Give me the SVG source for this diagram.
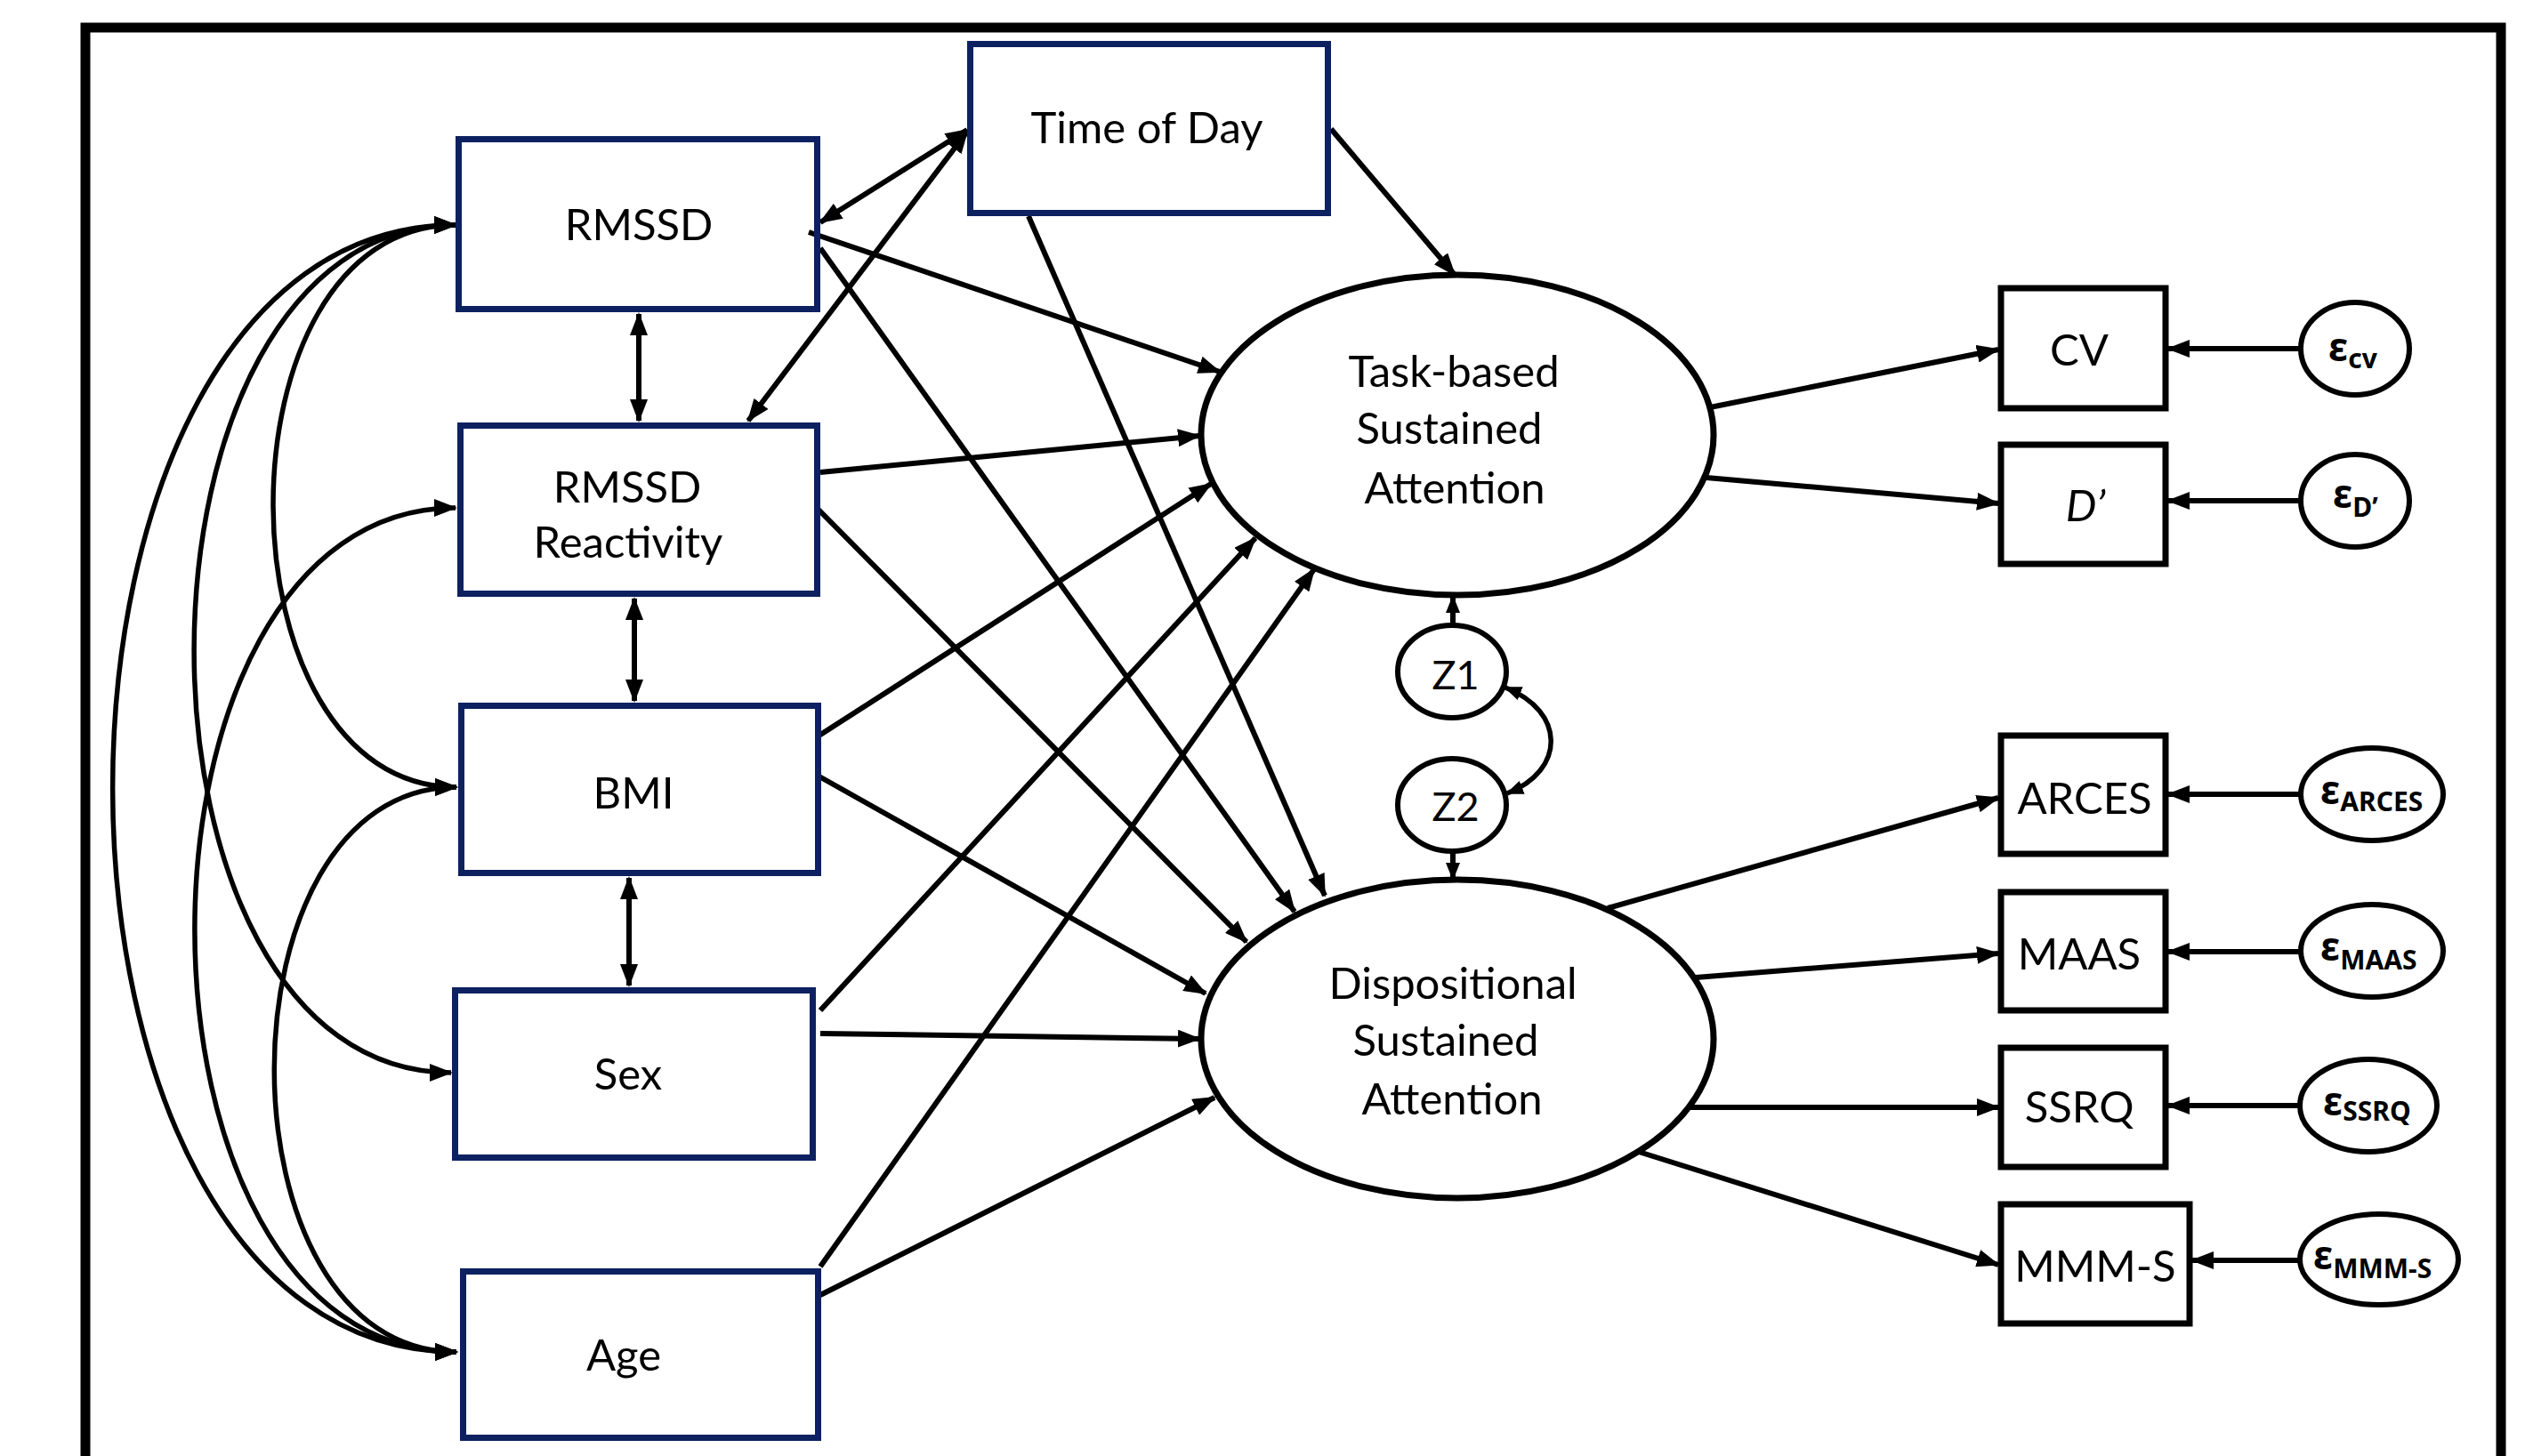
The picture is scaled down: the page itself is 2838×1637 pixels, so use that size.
<svg xmlns="http://www.w3.org/2000/svg" width="2838" height="1637" viewBox="0 0 2838 1637">
<style>
.frame{fill:none;stroke:#000;stroke-width:11}
.nbox{fill:none;stroke:#0d2160;stroke-width:7}
.kbox{fill:#fff;stroke:#000;stroke-width:7}
.ell{fill:#fff;stroke:#000;stroke-width:7}
.sell{fill:#fff;stroke:#000;stroke-width:6}
.lbl{font-family:Lato,"Liberation Sans",sans-serif;font-size:49px;fill:#000;text-anchor:middle}
.zl{font-family:Lato,"Liberation Sans",sans-serif;font-size:45px;fill:#000;text-anchor:middle}
.eps{font-family:"Noto Sans","DejaVu Sans",sans-serif;font-weight:bold;fill:#000}
.e{font-size:44px}
.sub{font-size:30px}
.c{fill:none;stroke:#000;stroke-width:6}
.cv{fill:none;stroke:#000;stroke-width:5.5}
</style>
<defs>
<marker id="ah" markerUnits="userSpaceOnUse" markerWidth="26" markerHeight="20" viewBox="0 0 26 20" refX="24" refY="10" orient="auto-start-reverse">
<path d="M0,0 L26,10 L0,20 z" fill="#000"/>
</marker>
<marker id="ahs" markerUnits="userSpaceOnUse" markerWidth="20" markerHeight="16" viewBox="0 0 20 16" refX="18" refY="8" orient="auto-start-reverse">
<path d="M0,0 L20,8 L0,16 z" fill="#000"/>
</marker>
</defs>
<rect x="0" y="0" width="2838" height="1637" fill="#fff"/>
<rect class="frame" x="96" y="31" width="2715" height="1700"/>

<g id="connectors">
<path class="cv" d="M512,253 C237,253 240,885 513,885" marker-start="url(#ah)" marker-end="url(#ah)"/>
<path class="cv" d="M512,253 C121,253 121,1206 507,1206" marker-start="url(#ah)" marker-end="url(#ah)"/>
<path class="cv" d="M512,253 C-2,253 -2,1520 513,1520" marker-start="url(#ah)" marker-end="url(#ah)"/>
<path class="cv" d="M512,571 C121,571 121,1520 513,1520" marker-start="url(#ah)" marker-end="url(#ah)"/>
<path class="cv" d="M513,885 C240,885 240,1520 513,1520" marker-start="url(#ah)" marker-end="url(#ah)"/>
<line class="c" x1="718" y1="353" x2="718" y2="473" marker-start="url(#ah)" marker-end="url(#ah)"/>
<line class="c" x1="713" y1="673" x2="713" y2="788" marker-start="url(#ah)" marker-end="url(#ah)"/>
<line class="c" x1="707" y1="987" x2="707" y2="1108" marker-start="url(#ah)" marker-end="url(#ah)"/>
<line class="c" x1="922" y1="250" x2="1087" y2="146" marker-start="url(#ah)" marker-end="url(#ah)"/>
<line class="c" x1="841" y1="473" x2="1087" y2="148" marker-start="url(#ah)" marker-end="url(#ah)"/>
<line class="c" x1="1496" y1="145" x2="1635" y2="309" marker-end="url(#ah)"/>
<line class="c" x1="909" y1="261" x2="1371" y2="418" marker-end="url(#ah)"/>
<line class="c" x1="922" y1="531" x2="1348" y2="490" marker-end="url(#ah)"/>
<line class="c" x1="919" y1="828" x2="1361" y2="544" marker-end="url(#ah)"/>
<line class="c" x1="922" y1="1136" x2="1411" y2="605" marker-end="url(#ah)"/>
<line class="c" x1="922" y1="1424" x2="1477" y2="640" marker-end="url(#ah)"/>
<line class="c" x1="1156" y1="243" x2="1489" y2="1007" marker-end="url(#ah)"/>
<line class="c" x1="922" y1="279" x2="1455" y2="1025" marker-end="url(#ah)"/>
<line class="c" x1="919" y1="572" x2="1401" y2="1059" marker-end="url(#ah)"/>
<line class="c" x1="919" y1="872" x2="1355" y2="1117" marker-end="url(#ah)"/>
<line class="c" x1="922" y1="1162" x2="1348" y2="1168" marker-end="url(#ah)"/>
<line class="c" x1="922" y1="1456" x2="1365" y2="1234" marker-end="url(#ah)"/>
<line class="c" x1="1633" y1="702" x2="1633" y2="671" marker-end="url(#ahs)"/>
<line class="c" x1="1633" y1="959" x2="1633" y2="988" marker-end="url(#ahs)"/>
<path class="cv" d="M1692,773 C1760,800 1760,866 1694,892" marker-start="url(#ahs)" marker-end="url(#ahs)"/>
<line class="c" x1="1922" y1="458" x2="2246" y2="393" marker-end="url(#ah)"/>
<line class="c" x1="1918" y1="537" x2="2246" y2="566" marker-end="url(#ah)"/>
<line class="c" x1="1807" y1="1021" x2="2246" y2="897" marker-end="url(#ah)"/>
<line class="c" x1="1906" y1="1099" x2="2246" y2="1072" marker-end="url(#ah)"/>
<line class="c" x1="1900" y1="1245" x2="2246" y2="1245" marker-end="url(#ah)"/>
<line class="c" x1="1842" y1="1295" x2="2246" y2="1422" marker-end="url(#ah)"/>
<line class="c" x1="2585" y1="392" x2="2437" y2="392" marker-end="url(#ah)"/>
<line class="c" x1="2585" y1="563" x2="2437" y2="563" marker-end="url(#ah)"/>
<line class="c" x1="2585" y1="893" x2="2437" y2="893" marker-end="url(#ah)"/>
<line class="c" x1="2585" y1="1070" x2="2437" y2="1070" marker-end="url(#ah)"/>
<line class="c" x1="2585" y1="1243" x2="2437" y2="1243" marker-end="url(#ah)"/>
<line class="c" x1="2585" y1="1417" x2="2464" y2="1417" marker-end="url(#ah)"/>
</g>

<g id="rmssd"><rect class="nbox" x="515.5" y="156.5" width="403" height="191"/><text class="lbl" x="718" y="270">RMSSD</text></g>
<g id="rmssd-reactivity"><rect class="nbox" x="517.5" y="478.5" width="401" height="189"/><text class="lbl" x="705" y="565">RMSSD</text><text class="lbl" x="706" y="627">Reactivity</text></g>
<g id="bmi"><rect class="nbox" x="518.5" y="793.5" width="401" height="188"/><text class="lbl" x="712" y="909">BMI</text></g>
<g id="sex"><rect class="nbox" x="511.5" y="1113.5" width="402" height="188"/><text class="lbl" x="706" y="1225">Sex</text></g>
<g id="age"><rect class="nbox" x="520.5" y="1429.5" width="399" height="187"/><text class="lbl" x="701" y="1541">Age</text></g>
<g id="time-of-day"><rect class="nbox" x="1090.5" y="49.5" width="402" height="190"/><text class="lbl" x="1289" y="161">Time of Day</text></g>

<g id="task-based"><ellipse class="ell" cx="1638" cy="489" rx="288" ry="180"/><text class="lbl" x="1634" y="435">Task-based</text><text class="lbl" x="1629" y="499">Sustained</text><text class="lbl" x="1635" y="566">Attention</text></g>
<g id="dispositional"><ellipse class="ell" cx="1638" cy="1168" rx="288" ry="179"/><text class="lbl" x="1633" y="1123">Dispositional</text><text class="lbl" x="1625" y="1187">Sustained</text><text class="lbl" x="1632" y="1253">Attention</text></g>
<g id="z1"><ellipse class="sell" cx="1632" cy="755" rx="61" ry="52"/><text class="zl" x="1636" y="775">Z1</text></g>
<g id="z2"><ellipse class="sell" cx="1632" cy="905" rx="61" ry="52"/><text class="zl" x="1636" y="923">Z2</text></g>

<g id="cv"><rect class="kbox" x="2249" y="324" width="185" height="135"/><text class="lbl" x="2337" y="411">CV</text></g>
<g id="dprime"><rect class="kbox" x="2249" y="500" width="185" height="134"/><text class="lbl" x="2344" y="586" font-style="italic">D’</text></g>
<g id="arces"><rect class="kbox" x="2249" y="827" width="185" height="133"/><text class="lbl" x="2343" y="915">ARCES</text></g>
<g id="maas"><rect class="kbox" x="2249" y="1003" width="185" height="133"/><text class="lbl" x="2337" y="1090">MAAS</text></g>
<g id="ssrq"><rect class="kbox" x="2249" y="1178" width="185" height="134"/><text class="lbl" x="2337" y="1262">SSRQ</text></g>
<g id="mmms"><rect class="kbox" x="2249" y="1354" width="212" height="134"/><text class="lbl" x="2355" y="1441">MMM-S</text></g>

<g id="e-cv"><ellipse class="sell" cx="2647" cy="392" rx="61" ry="52"/><text class="eps" x="2617" y="406"><tspan class="e">ε</tspan><tspan class="sub" dy="8">cv</tspan></text></g>
<g id="e-dprime"><ellipse class="sell" cx="2647" cy="563" rx="61" ry="52"/><text class="eps" x="2622" y="571"><tspan class="e">ε</tspan><tspan class="sub" dy="10">D’</tspan></text></g>
<g id="e-arces"><ellipse class="sell" cx="2666" cy="893" rx="80" ry="52"/><text class="eps" x="2608" y="904"><tspan class="e">ε</tspan><tspan class="sub" dy="8">ARCES</tspan></text></g>
<g id="e-maas"><ellipse class="sell" cx="2666" cy="1069" rx="80" ry="52"/><text class="eps" x="2608" y="1080"><tspan class="e">ε</tspan><tspan class="sub" dy="10">MAAS</tspan></text></g>
<g id="e-ssrq"><ellipse class="sell" cx="2662" cy="1243" rx="77" ry="52"/><text class="eps" x="2611" y="1254"><tspan class="e">ε</tspan><tspan class="sub" dy="6">SSRQ</tspan></text></g>
<g id="e-mmms"><ellipse class="sell" cx="2674" cy="1416" rx="89" ry="51"/><text class="eps" x="2600" y="1427"><tspan class="e">ε</tspan><tspan class="sub" dy="10">MMM-S</tspan></text></g>
</svg>
